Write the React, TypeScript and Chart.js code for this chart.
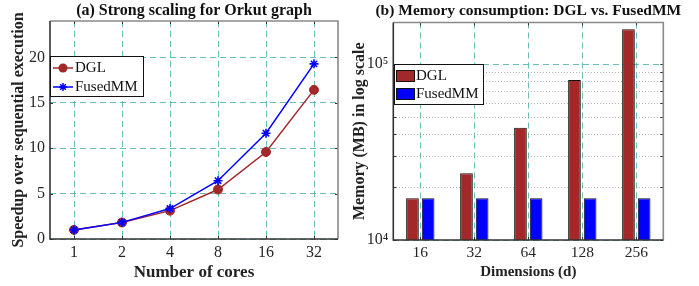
import React, { useEffect, useRef } from 'react';
import { Chart, registerables } from 'chart.js';

Chart.register(...registerables);

const FONT = "'Liberation Serif', 'Times New Roman', serif";

// ---- Panel (a) data ----
const coreLabels = ['1', '2', '4', '8', '16', '32'];
const dglSpeedup = [1.0, 1.82, 3.12, 5.45, 9.58, 16.42];
const fusedSpeedup = [1.0, 1.83, 3.35, 6.42, 11.65, 19.28];
const speedupTicks = [0, 5, 10, 15, 20];

// ---- Panel (b) data ----
const dimLabels = ['16', '32', '64', '128', '256'];
const dglMemory = [17300, 24000, 43500, 81400, 158300];
const fusedMemory = [17300, 17300, 17300, 17300, 17300];
const memoryTicks = [10000, 20000, 30000, 40000, 50000, 60000, 70000, 80000, 90000, 100000];
const memoryTickLabels: Record<number, string> = { 10000: '10⁴', 100000: '10⁵' };

const DGL_COLOR = '#a3282a';
const FUSED_COLOR = '#0000ff';
const TEAL = 'rgba(70,172,166,0.8)';
const MINOR = 'rgba(150,150,150,0.7)';
const TEXT = '#262626';

const titlePlugin = {
  id: 'panelTitle',
  afterDraw(chart: any, _args: any, o: any) {
    const { ctx, chartArea: a } = chart;
    ctx.save();
    ctx.font = `bold ${o.size}px ${FONT}`;
    ctx.fillStyle = '#111';
    ctx.textAlign = 'center';
    ctx.textBaseline = 'middle';
    ctx.fillText(o.text, (a.left + a.right) / 2, o.y);
    ctx.restore();
  },
};

const framePlugin = {
  id: 'frame',
  afterDatasetsDraw(chart: any) {
    const { ctx, chartArea: a } = chart;
    const ys = chart.scales.y;
    const xs = chart.scales.x;
    ctx.save();
    ctx.strokeStyle = '#333';
    ctx.lineWidth = 1;
    ctx.beginPath();
    ys.ticks.forEach((t: any) => {
      const p = Math.round(ys.getPixelForValue(t.value)) + 0.5;
      ctx.moveTo(a.right, p);
      ctx.lineTo(a.right - 3, p);
      ctx.moveTo(a.left, p);
      ctx.lineTo(a.left + 3, p);
    });
    xs.ticks.forEach((_t: any, i: number) => {
      const p = Math.round(xs.getPixelForTick(i)) + 0.5;
      ctx.moveTo(p, a.top);
      ctx.lineTo(p, a.top + 3);
      ctx.moveTo(p, a.bottom);
      ctx.lineTo(p, a.bottom - 3);
    });
    ctx.stroke();
    ctx.lineWidth = 1.6;
    ctx.strokeStyle = '#8a8a8a';
    ctx.beginPath();
    ctx.moveTo(a.left, a.top);
    ctx.lineTo(a.right, a.top);
    ctx.lineTo(a.right, a.bottom);
    ctx.stroke();
    ctx.strokeStyle = '#333';
    ctx.beginPath();
    ctx.moveTo(a.left, a.top);
    ctx.lineTo(a.left, a.bottom);
    ctx.lineTo(a.right, a.bottom);
    ctx.stroke();
    ctx.restore();
  },
};

const boxLegendPlugin = {
  id: 'boxLegend',
  afterDraw(chart: any, _args: any, o: any) {
    const { ctx } = chart;
    ctx.save();
    ctx.fillStyle = '#fff';
    ctx.fillRect(o.x, o.y, o.w, o.h);
    ctx.strokeStyle = '#111';
    ctx.lineWidth = 1;
    ctx.strokeRect(o.x + 0.5, o.y + 0.5, o.w, o.h);
    ctx.font = `${o.size}px ${FONT}`;
    ctx.textBaseline = 'middle';
    ctx.textAlign = 'left';
    chart.data.datasets.forEach((ds: any, i: number) => {
      const cy = o.rows[i];
      if (o.kind === 'line') {
        ctx.strokeStyle = ds.borderColor;
        ctx.lineWidth = 1.5;
        ctx.beginPath();
        ctx.moveTo(o.symX0, cy);
        ctx.lineTo(o.symX1, cy);
        ctx.stroke();
        const mx = (o.symX0 + o.symX1) / 2;
        if (ds.pointStyle === 'star') {
          const r = 4;
          ctx.beginPath();
          ctx.moveTo(mx - r, cy); ctx.lineTo(mx + r, cy);
          ctx.moveTo(mx, cy - r); ctx.lineTo(mx, cy + r);
          const d = r * 0.707;
          ctx.moveTo(mx - d, cy - d); ctx.lineTo(mx + d, cy + d);
          ctx.moveTo(mx - d, cy + d); ctx.lineTo(mx + d, cy - d);
          ctx.stroke();
        } else {
          ctx.fillStyle = ds.backgroundColor;
          ctx.beginPath();
          ctx.arc(mx, cy, 4.5, 0, Math.PI * 2);
          ctx.fill();
        }
      } else {
        ctx.fillStyle = ds.backgroundColor;
        ctx.fillRect(o.symX0, cy - 6, o.symX1 - o.symX0, 12);
        ctx.strokeStyle = '#111';
        ctx.lineWidth = 1;
        ctx.strokeRect(o.symX0 + 0.5, cy - 5.5, o.symX1 - o.symX0 - 1, 11);
      }
      ctx.fillStyle = '#111';
      ctx.fillText(ds.label, o.textX, cy + 0.5);
    });
    ctx.restore();
  },
};

function SpeedupChart() {
  const ref = useRef<HTMLCanvasElement | null>(null);
  useEffect(() => {
    if (!ref.current) return;
    const chart = new Chart(ref.current, {
      type: 'line',
      data: {
        labels: coreLabels,
        datasets: [
          {
            label: 'DGL',
            data: dglSpeedup,
            borderColor: DGL_COLOR,
            backgroundColor: DGL_COLOR,
            borderWidth: 1.5,
            pointStyle: 'circle',
            pointRadius: 4.5,
            pointBorderWidth: 1,
            order: 2,
          },
          {
            label: 'FusedMM',
            data: fusedSpeedup,
            borderColor: FUSED_COLOR,
            backgroundColor: FUSED_COLOR,
            borderWidth: 1.5,
            pointStyle: 'star',
            pointRadius: 4.5,
            pointBorderWidth: 1.6,
            order: 1,
          },
        ],
      },
      options: {
        animation: false,
        responsive: false,
        layout: { padding: { left: 0, right: 12, top: 21, bottom: 0 } },
        plugins: {
          legend: { display: false },
          tooltip: { enabled: false },
          panelTitle: { text: '(a) Strong scaling for Orkut graph', y: 11, size: 16 },
          boxLegend: {
            kind: 'line', x: 50, y: 56, w: 93, h: 40, rows: [68, 87],
            symX0: 53, symX1: 73, textX: 75, size: 15,
          },
        } as any,
        scales: {
          x: {
            type: 'category',
            offset: true,
            grid: { color: TEAL, lineWidth: 1, drawTicks: false, offset: false },
            border: { display: false, dash: [6, 4] },
            ticks: { color: TEXT, font: { family: FONT, size: 16 }, padding: 4.5 },
            title: {
              display: true, text: 'Number of cores', color: '#222',
              font: { family: FONT, size: 17, weight: 'bold' }, padding: { top: 0, bottom: 2.8 },
            },
            afterFit(s: any) { s.height = 47; },
          },
          y: {
            min: 0,
            max: 24,
            afterBuildTicks(s: any) { s.ticks = speedupTicks.map((v) => ({ value: v })); },
            grid: { color: TEAL, lineWidth: 1, drawTicks: false },
            border: { display: false, dash: [6, 4] },
            ticks: { color: TEXT, font: { family: FONT, size: 16 }, padding: 5 },
            title: {
              display: true, text: 'Speedup over sequential execution', color: '#222',
              font: { family: FONT, size: 16, weight: 'bold' }, padding: { top: 9.4, bottom: 0 },
            },
            afterFit(s: any) { s.width = 50; },
          },
        } as any,
      },
      plugins: [titlePlugin, framePlugin, boxLegendPlugin],
    } as any);
    return () => chart.destroy();
  }, []);
  return <canvas ref={ref} width={350} height={286} style={{ width: 350, height: 286, display: 'block' }} />;
}

function MemoryChart() {
  const ref = useRef<HTMLCanvasElement | null>(null);
  useEffect(() => {
    if (!ref.current) return;
    const chart = new Chart(ref.current, {
      type: 'bar',
      data: {
        labels: dimLabels,
        datasets: [
          {
            label: 'DGL',
            data: dglMemory,
            backgroundColor: DGL_COLOR,
            borderColor: '#111',
            borderWidth: 1,
            categoryPercentage: 0.58,
            barPercentage: 0.81,
          },
          {
            label: 'FusedMM',
            data: fusedMemory,
            backgroundColor: FUSED_COLOR,
            borderColor: '#111',
            borderWidth: 1,
            categoryPercentage: 0.58,
            barPercentage: 0.81,
          },
        ],
      },
      options: {
        animation: false,
        responsive: false,
        layout: { padding: { left: 0, right: 35.7, top: 22.5, bottom: 0 } },
        plugins: {
          legend: { display: false },
          tooltip: { enabled: false },
          panelTitle: { text: '(b) Memory consumption: DGL vs. FusedMM', y: 11, size: 15.5 },
          boxLegend: {
            kind: 'bar', x: 44, y: 64, w: 89, h: 40, rows: [76, 94],
            symX0: 46, symX1: 65, textX: 66, size: 15,
          },
        } as any,
        scales: {
          x: {
            type: 'category',
            offset: true,
            grid: { color: TEAL, lineWidth: 1, drawTicks: false, offset: false },
            border: { display: false, dash: [6, 4] },
            ticks: { color: TEXT, font: { family: FONT, size: 15.5 }, padding: 3.7 },
            title: {
              display: true, text: 'Dimensions (d)', color: '#222',
              font: { family: FONT, size: 15, weight: 'bold' }, padding: { top: 0, bottom: 4.5 },
            },
            afterFit(s: any) { s.height = 46; },
          },
          y: {
            type: 'logarithmic',
            min: 10000,
            max: 172700,
            afterBuildTicks(s: any) { s.ticks = memoryTicks.map((v) => ({ value: v })); },
            grid: {
              drawTicks: false,
              lineWidth: 1,
              color: (c: any) => (c.tick && memoryTickLabels[c.tick.value] ? TEAL : MINOR),
            },
            border: {
              display: false,
              dash: (c: any) => (c.tick && memoryTickLabels[c.tick.value] ? [6, 4] : [1, 2]),
            },
            ticks: {
              color: TEXT,
              font: { family: FONT, size: 16 },
              padding: 5,
              autoSkip: false,
              callback: (v: any) => memoryTickLabels[Number(v)] ?? '',
            },
            title: {
              display: true, text: 'Memory (MB) in log scale', color: '#222',
              font: { family: FONT, size: 16, weight: 'bold' }, padding: { top: 0.4, bottom: 0 },
            },
            afterFit(s: any) { s.width = 43.3; },
          },
        } as any,
      },
      plugins: [titlePlugin, framePlugin, boxLegendPlugin],
    } as any);
    return () => chart.destroy();
  }, []);
  return <canvas ref={ref} width={349} height={286} style={{ width: 349, height: 286, display: 'block' }} />;
}

export default function App() {
  return (
    <div style={{ position: 'fixed', left: 0, top: 0, width: 699, height: 286, background: '#fff' }}>
      <div style={{ position: 'absolute', left: 0, top: 0, width: 350, height: 286 }}>
        <SpeedupChart />
      </div>
      <div style={{ position: 'absolute', left: 350, top: 0, width: 349, height: 286 }}>
        <MemoryChart />
      </div>
    </div>
  );
}
